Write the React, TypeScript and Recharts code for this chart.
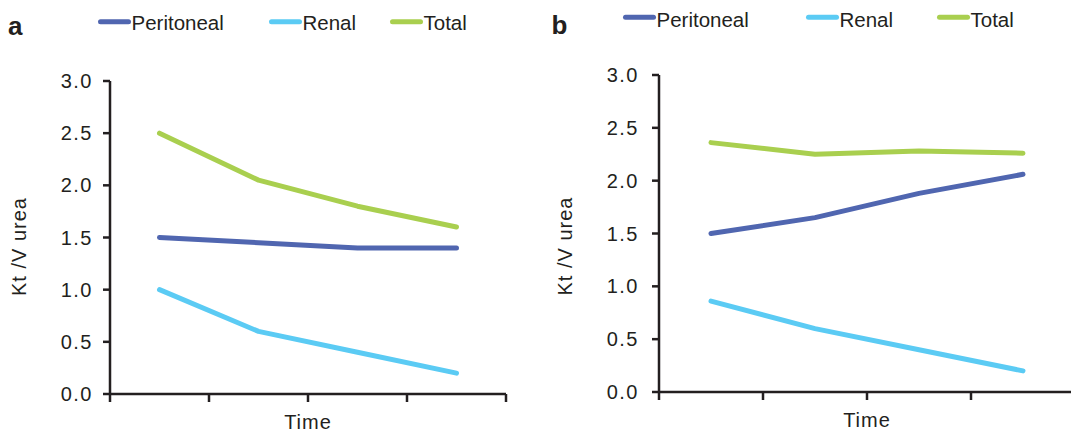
import { LineChart, Line, XAxis, YAxis, Legend } from "recharts";

// four time points, unlabelled on the axis
const TIMES = ["T1", "T2", "T3", "T4"];

const A_PERITONEAL = [1.5, 1.45, 1.4, 1.4];
const A_RENAL = [1.0, 0.6, 0.4, 0.2];
const A_TOTAL = [2.5, 2.05, 1.8, 1.6];

const B_PERITONEAL = [1.5, 1.65, 1.88, 2.06];
const B_RENAL = [0.86, 0.6, 0.4, 0.2];
const B_TOTAL = [2.36, 2.25, 2.28, 2.26];

const Y_TICKS = [0, 0.5, 1, 1.5, 2, 2.5, 3];
const X_TICKS = [0, 1, 2, 3, 4];

const COLORS = {
  Peritoneal: "#5066B0",
  Renal: "#5BCBF4",
  Total: "#A9CF4F",
};

const INK = "#231F20";
const FONT = "'Liberation Sans', Arial, Helvetica, sans-serif";

function buildRows(per: number[], ren: number[], tot: number[]) {
  // points sit in the middle of each time slot, ticks on the slot edges
  return TIMES.map((t, i) => ({
    time: t,
    x: i + 0.5,
    Peritoneal: per[i],
    Renal: ren[i],
    Total: tot[i],
  }));
}

type PanelProps = {
  letter: string;
  left: number;
  per: number[];
  ren: number[];
  tot: number[];
  margin: { top: number; right: number; bottom: number; left: number };
  tickMargin: number;
  legendX: number[];
  legendLineY: number;
  legendBase: number;
  letterX: number;
  letterBase: number;
  yLabelX: number;
  yLabelY: number;
  timeBase: number;
};

function Panel(p: PanelProps) {
  const data = buildRows(p.per, p.ren, p.tot);

  const renderLegend = (props: any) => {
    const payload = props.payload || [];
    return (
      <svg width={540} height={45} style={{ display: "block" }}>
        <text
          x={p.letterX}
          y={p.letterBase}
          fontSize={26}
          fontWeight="bold"
          fill={INK}
          fontFamily={FONT}
        >
          {p.letter}
        </text>
        {payload.map((item: any, i: number) => {
          const x0 = p.legendX[i];
          return (
            <g key={item.value}>
              <line
                x1={x0 + 2.5}
                x2={x0 + 30.5}
                y1={p.legendLineY}
                y2={p.legendLineY}
                stroke={item.color}
                strokeWidth={5}
                strokeLinecap="round"
              />
              <text
                x={x0 + 33.5}
                y={p.legendBase}
                fontSize={20.5}
                fill={INK}
                fontFamily={FONT}
              >
                {item.value}
              </text>
            </g>
          );
        })}
      </svg>
    );
  };

  return (
    <div style={{ position: "absolute", left: p.left, top: 0 }}>
      <LineChart width={540} height={433} data={data} margin={p.margin}>
        <XAxis
          dataKey="x"
          type="number"
          domain={[0, 4]}
          ticks={X_TICKS}
          tickFormatter={() => ""}
          axisLine={{ stroke: INK, strokeWidth: 2.5 }}
          tickLine={{ stroke: INK, strokeWidth: 2.5 }}
          tickSize={8}
          height={30}
          label={{
            content: (lp: any) => {
              const vb = lp.viewBox;
              return (
                <text
                  x={vb.x + vb.width / 2}
                  y={p.timeBase}
                  textAnchor="middle"
                  fontSize={20}
                  letterSpacing={1}
                  fill={INK}
                  fontFamily={FONT}
                >
                  Time
                </text>
              );
            },
          }}
        />
        <YAxis
          type="number"
          domain={[0, 3]}
          ticks={Y_TICKS}
          interval={0}
          tickFormatter={(v: number) => v.toFixed(1)}
          axisLine={{ stroke: INK, strokeWidth: 2.5 }}
          tickLine={{ stroke: INK, strokeWidth: 2.5 }}
          tickSize={7}
          tickMargin={p.tickMargin}
          tick={{ fontSize: 20, fill: INK, fontFamily: FONT, letterSpacing: 1.5 }}
          width={60}
          label={{
            content: () => (
              <text
                x={p.yLabelX}
                y={p.yLabelY}
                textAnchor="middle"
                transform={`rotate(-90, ${p.yLabelX}, ${p.yLabelY})`}
                fontSize={20}
                letterSpacing={1}
                fill={INK}
                fontFamily={FONT}
              >
                Kt /V urea
              </text>
            ),
          }}
        />
        <Legend
          verticalAlign="middle"
          layout="horizontal"
          content={renderLegend}
          wrapperStyle={{ top: 0, left: 0, width: 540, height: 45 }}
        />
        {(["Peritoneal", "Renal", "Total"] as const).map((k) => (
          <Line
            key={k}
            dataKey={k}
            name={k}
            stroke={COLORS[k]}
            strokeWidth={5}
            strokeLinecap="round"
            strokeLinejoin="round"
            dot={false}
            activeDot={false}
            isAnimationActive={false}
          />
        ))}
      </LineChart>
    </div>
  );
}

export default function App() {
  return (
    <div
      style={{
        position: "absolute",
        left: 0,
        top: 0,
        width: 1071,
        height: 433,
        overflow: "hidden",
        background: "#fff",
        fontFamily: FONT,
      }}
    >
      <Panel
        letter="a"
        left={0}
        per={A_PERITONEAL}
        ren={A_RENAL}
        tot={A_TOTAL}
        margin={{ top: 81, right: 34, bottom: 9, left: 50 }}
        tickMargin={10}
        legendX={[98, 269, 390]}
        legendLineY={21.7}
        legendBase={30}
        letterX={8}
        letterBase={35}
        yLabelX={26}
        yLabelY={246.5}
        timeBase={429}
      />
      <Panel
        letter="b"
        left={540}
        per={B_PERITONEAL}
        ren={B_RENAL}
        tot={B_TOTAL}
        margin={{ top: 75, right: 5, bottom: 11, left: 59 }}
        tickMargin={13}
        legendX={[83, 266, 397]}
        legendLineY={17.3}
        legendBase={27}
        letterX={11.5}
        letterBase={34}
        yLabelX={32}
        yLabelY={246}
        timeBase={427}
      />
    </div>
  );
}
